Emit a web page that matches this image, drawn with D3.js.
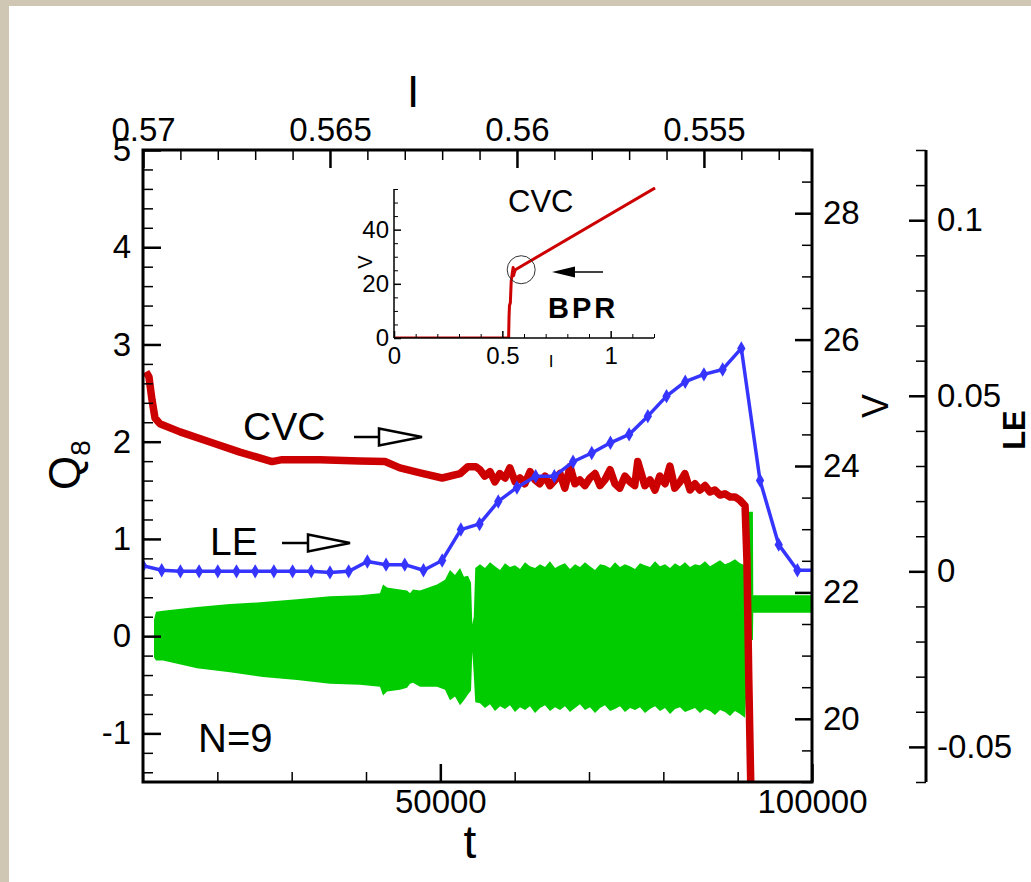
<!DOCTYPE html>
<html><head><meta charset="utf-8">
<script src="https://cdn.jsdelivr.net/npm/d3@7"></script>
<style>
html,body{margin:0;padding:0;background:#fff;}
svg{display:block;}
</style></head><body>
<svg id="chart" width="1031" height="882"></svg>
<script>
// ---------------- DATA ----------------
// CVC: voltage V versus current I (top axis I, right axis V)
const cvcI = [0.56992,0.56984,0.56976,0.56968,0.56955,0.56901,0.56821,0.56741,0.56655,0.56628,0.56527,0.56420,0.56353,0.56313,0.56259,0.56200,0.56152,0.56131,0.56110,
  0.56099,0.56086,0.56072,0.56059,0.56046,0.56032,0.56019,0.56005,0.55992,0.55979,0.55965,0.55952,0.55939,0.55925,0.55912,0.55898,0.55885,0.55872,0.55858,0.55845,
  0.55832,0.55818,0.55805,0.55791,0.55778,0.55765,0.55751,0.55738,0.55725,0.55711,0.55698,0.55685,0.55677,0.55658,0.55644,0.55631,0.55618,0.55604,0.55591,0.55578,
  0.55564,0.55551,0.55537,0.55524,0.55511,0.55497,0.55484,0.55471,0.55457,0.55444,0.55430,0.55417,0.55404,0.55390,0.55385,0.55380,0.55374];
const cvcV = [25.49,25.41,25.05,24.76,24.67,24.54,24.38,24.22,24.07,24.10,24.10,24.08,24.07,23.97,23.89,23.81,23.88,23.99,23.99,
  23.94,23.84,23.91,23.75,23.88,23.81,23.97,23.75,23.81,23.72,23.91,23.78,23.72,23.84,23.69,23.78,23.88,23.65,23.99,23.72,
  23.78,23.69,23.81,23.88,23.69,23.78,23.94,23.72,23.65,23.84,23.75,23.69,24.07,23.69,23.78,23.62,23.84,23.72,24.00,23.65,
  23.75,23.88,23.62,23.72,23.62,23.69,23.59,23.62,23.54,23.56,23.51,23.51,23.46,23.37,22.51,20.61,18.72];

// LE: Lyapunov exponent versus current I (top axis I, right axis LE)
const leI = [0.5700,0.5695,0.5690,0.5685,0.5680,0.5675,0.5670,0.5665,0.5660,0.5655,0.5650,0.5645,0.5640,0.5635,0.5630,0.5625,0.5620,0.5615,0.5610,0.5605,
  0.5600,0.5595,0.5590,0.5585,0.5580,0.5575,0.5570,0.5565,0.5560,0.5555,0.5550,0.5545,0.5540,0.5535,0.5530,0.5525,0.5520];
const leVal = [0.0016,0.0003,0,0,0,0,0,0,0,0,-0.0003,0,0.0028,0.0019,0.0019,0.0003,0.0031,0.0119,0.0135,0.0199,
  0.0239,0.0271,0.0271,0.0312,0.0337,0.0366,0.0390,0.0442,0.0499,0.0540,0.0561,0.0575,0.0635,0.0259,0.0076,0.0003,0.0003];

// Q8 time dependence (bottom axis t, left axis Q8): oscillation envelope
const q8T = [11480,11750,12690,17260,21700,26140,30720,35160,39190,41880,42290,42830,44570,45520,45920,46320,47270,49550,50630,51300,51970,52650,53180,53720,54130,54300,54500,54700,
  55340,56010,56680,57350,58030,58700,59370,60040,60720,61390,62060,62740,63410,64080,64750,65430,66100,66770,67440,68120,68790,69460,70130,70810,71480,72150,72830,73500,
  74170,74840,75520,76190,76860,77530,78210,78880,79550,80230,80900,81570,82240,82920,83590,84260,84930,85610,86280,86950,87630,88300,88970,89640,90320,90990,
  91500,92050,92100,100000];
const q8Upper = [0.17,0.25,0.26,0.30,0.33,0.35,0.38,0.41,0.42,0.44,0.53,0.50,0.48,0.47,0.44,0.48,0.47,0.53,0.58,0.68,0.63,0.70,0.61,0.62,0.55,0.12,0.20,0.70,
  0.74,0.70,0.76,0.72,0.68,0.75,0.71,0.73,0.69,0.76,0.72,0.70,0.74,0.71,0.77,0.70,0.73,0.75,0.69,0.74,0.71,0.76,0.72,0.68,0.74,0.73,0.70,0.76,
  0.71,0.74,0.72,0.69,0.75,0.73,0.71,0.77,0.72,0.74,0.70,0.75,0.72,0.76,0.71,0.74,0.73,0.77,0.72,0.75,0.78,0.74,0.76,0.79,0.75,0.73,
  1.28,1.28,0.42,0.42];
const q8Lower = [-0.22,-0.25,-0.25,-0.33,-0.37,-0.42,-0.45,-0.49,-0.50,-0.52,-0.61,-0.57,-0.55,-0.53,-0.49,-0.48,-0.52,-0.52,-0.55,-0.66,-0.62,-0.71,-0.66,-0.60,-0.56,-0.16,-0.40,-0.68,
  -0.69,-0.74,-0.70,-0.77,-0.72,-0.75,-0.71,-0.78,-0.73,-0.76,-0.72,-0.79,-0.74,-0.71,-0.77,-0.73,-0.76,-0.72,-0.78,-0.74,-0.70,-0.76,-0.73,-0.79,-0.74,-0.71,-0.77,-0.75,
  -0.72,-0.78,-0.74,-0.76,-0.73,-0.79,-0.75,-0.72,-0.77,-0.74,-0.80,-0.75,-0.73,-0.78,-0.76,-0.74,-0.79,-0.75,-0.77,-0.81,-0.76,-0.78,-0.82,-0.77,-0.80,-0.84,
  -0.04,-0.04,0.24,0.24];

// Inset CVC (I, V)
const insetI = [0,0.529,0.531,0.533,0.537,0.541,0.546,0.550,0.552,0.555,0.560,1.205];
const insetV = [0,0,8,12,13,21,24,26,23,24,25.2,55.4];
const bprPoint = [0.587,25.2];

// Tick values / labels
const topTicks = [0.57,0.565,0.56,0.555];
const topTickLabels = ["0.57","0.565","0.56","0.555"];
const bottomTicks = [50000,100000];
const bottomTickLabels = ["50000","100000"];
const leftTicks = [-1,0,1,2,3,4,5];
const leftTickLabels = ["-1","0","1","2","3","4","5"];
const vTicks = [20,22,24,26,28];
const vTickLabels = ["20","22","24","26","28"];
const leTicks = [-0.05,0,0.05,0.1];
const leTickLabels = ["-0.05","0","0.05","0.1"];
const insetXTicks = [0,0.5,1];
const insetXTickLabels = ["0","0.5","1"];
const insetYTicks = [0,20,40];
const insetYTickLabels = ["0","20","40"];

// ---------------- DRAWING ----------------
const FONT = '"Liberation Sans", Arial, Helvetica, sans-serif';
const W = 1031, H = 882;
const L = 143, R = 812, T = 150, B = 782;
const LEX = 926;
const RED = "#cc0000", BLUE = "#3535ff", GREEN = "#00cc00";

const svg = d3.select("#chart").style("font-family", FONT);
svg.append("rect").attr("width", W).attr("height", H).attr("fill", "#cfc6b4");
svg.append("rect").attr("x", 9).attr("y", 6).attr("width", W - 9).attr("height", H - 6).attr("fill", "#fff");

const xT = d3.scaleLinear().domain([10000, 100000]).range([L, R]);
const xI = d3.scaleLinear().domain([0.57, 0.55211]).range([L, R]);
const yQ = d3.scaleLinear().domain([-1.5, 5]).range([B, T]);
const yV = d3.scaleLinear().domain([19, 29]).range([B, T]);
const yLE = d3.scaleLinear().domain([-0.06, 0.12]).range([B, T]);

svg.append("clipPath").attr("id", "plotClip")
  .append("rect").attr("x", L).attr("y", T).attr("width", R - L).attr("height", B - T);
const plot = svg.append("g").attr("clip-path", "url(#plotClip)");

// green Q8 envelope
const q8 = q8T.map((t, i) => ({t, hi: q8Upper[i], lo: q8Lower[i]}));
plot.append("path").datum(q8)
  .attr("d", d3.area().x(d => xT(d.t)).y0(d => yQ(d.lo)).y1(d => yQ(d.hi)))
  .attr("fill", GREEN);

// red CVC
const cvc = cvcI.map((I, i) => ({I, V: cvcV[i]}));
plot.append("path").datum(cvc)
  .attr("d", d3.line().x(d => xI(d.I)).y(d => yV(d.V)))
  .attr("fill", "none").attr("stroke", RED).attr("stroke-width", 7.5)
  .attr("stroke-linejoin", "round").attr("stroke-linecap", "butt");

// blue LE
const le = leI.map((I, i) => ({I, v: leVal[i]}));
plot.append("path").datum(le)
  .attr("d", d3.line().x(d => xI(d.I)).y(d => yLE(d.v)))
  .attr("fill", "none").attr("stroke", BLUE).attr("stroke-width", 3.5).attr("stroke-linejoin", "round");
plot.selectAll(".mk").data(le).enter().append("path")
  .attr("d", d3.symbol().type(d3.symbolDiamond).size(60))
  .attr("transform", d => `translate(${xI(d.I)},${yLE(d.v)})`)
  .attr("fill", BLUE);

// axes helper
function addAxis(gen, tx, ty, sw, fs) {
  const g = svg.append("g").attr("transform", `translate(${tx},${ty})`).call(gen);
  g.attr("font-family", null).attr("font-size", null);
  g.select(".domain").remove();
  g.selectAll(".tick line").attr("stroke", "#000").attr("stroke-width", sw);
  g.selectAll(".tick text").attr("font-size", fs).attr("fill", "#000").style("font-family", FONT);
  return g;
}
const notIn = (arr) => v => !arr.some(a => Math.abs(a - v) < 1e-9);

// top axis (I)
addAxis(d3.axisTop(xI).tickValues(topTicks).tickFormat((d, i) => topTickLabels[i]).tickSize(-18).tickPadding(9), 0, T, 2.5, 33);
addAxis(d3.axisTop(xI).tickValues(d3.range(553, 571).map(v => v / 1000).filter(notIn(topTicks))).tickFormat("").tickSize(-10), 0, T, 1.5, 33);
// bottom axis (t)
addAxis(d3.axisBottom(xT).tickValues(bottomTicks).tickFormat((d, i) => bottomTickLabels[i]).tickSize(-18).tickPadding(8), 0, B, 2.5, 33);
addAxis(d3.axisBottom(xT).tickValues(d3.range(1, 10).map(k => k * 10000).filter(notIn(bottomTicks))).tickFormat("").tickSize(-10), 0, B, 1.5, 33);
// left axis (Q8)
addAxis(d3.axisLeft(yQ).tickValues(leftTicks).tickFormat((d, i) => leftTickLabels[i]).tickSize(-18).tickPadding(12), L, 0, 2.5, 33);
addAxis(d3.axisLeft(yQ).tickValues(d3.range(-7, 26).map(k => +(k * 0.2).toFixed(2)).filter(notIn(leftTicks))).tickFormat("").tickSize(-10), L, 0, 1.5, 33);
// right axis (V)
addAxis(d3.axisRight(yV).tickValues(vTicks).tickFormat((d, i) => vTickLabels[i]).tickSize(-17).tickPadding(11), R, 0, 2.5, 33);
addAxis(d3.axisRight(yV).tickValues(d3.range(38, 59).map(k => k / 2).filter(notIn(vTicks))).tickFormat("").tickSize(-10), R, 0, 1.5, 33);
// far right axis (LE)
addAxis(d3.axisRight(yLE).tickValues(leTicks).tickFormat((d, i) => leTickLabels[i]).tickSize(-17).tickPadding(11), LEX, 0, 2.5, 33);
addAxis(d3.axisRight(yLE).tickValues(d3.range(-6, 13).map(k => k / 100).filter(notIn(leTicks))).tickFormat("").tickSize(-10), LEX, 0, 1.5, 33);

// frame and LE axis line
svg.append("rect").attr("x", L).attr("y", T).attr("width", R - L).attr("height", B - T)
  .attr("fill", "none").attr("stroke", "#000").attr("stroke-width", 3);
svg.append("line").attr("x1", LEX).attr("x2", LEX).attr("y1", T).attr("y2", B)
  .attr("stroke", "#000").attr("stroke-width", 3);

// axis titles
svg.append("text").attr("x", 413).attr("y", 107).attr("text-anchor", "middle").attr("font-size", 44).text("I");
svg.append("text").attr("x", 470).attr("y", 858).attr("text-anchor", "middle").attr("font-size", 46).text("t");
const q8t = svg.append("text").attr("transform", "translate(80,490) rotate(-90)").attr("font-size", 44);
q8t.append("tspan").text("Q");
q8t.append("tspan").attr("font-size", 28).attr("dy", 10).text("8");
svg.append("text").attr("transform", "translate(888,406) rotate(-90)").attr("text-anchor", "middle").attr("font-size", 36).text("V");
svg.append("text").attr("transform", "translate(1025,430) rotate(-90)").attr("text-anchor", "middle").attr("font-size", 31).attr("font-weight", "bold").text("LE");

// annotations
svg.append("text").attr("x", 243).attr("y", 440).attr("font-size", 39).text("CVC");
svg.append("text").attr("x", 210).attr("y", 555).attr("font-size", 39).text("LE");
svg.append("text").attr("x", 198).attr("y", 752).attr("font-size", 40).text("N=9");
function openArrow(x0, x1, xt, y) {
  svg.append("line").attr("x1", x0).attr("x2", x1).attr("y1", y).attr("y2", y).attr("stroke", "#000").attr("stroke-width", 2.5);
  svg.append("path").attr("d", `M${x1},${y - 8.5}L${xt},${y}L${x1},${y + 8.5}Z`)
    .attr("fill", "#fff").attr("stroke", "#000").attr("stroke-width", 2.5).attr("stroke-linejoin", "miter");
}
openArrow(354, 379, 422, 437);
openArrow(282, 308, 350, 543);

// ---------------- INSET ----------------
const iL = 394, iR = 654, iT = 189, iB = 338;
const xi = d3.scaleLinear().domain([0, 1.2]).range([iL, iR]);
const yi = d3.scaleLinear().domain([0, 55]).range([iB, iT]);
const inset = insetI.map((I, i) => ({I, V: insetV[i]}));
svg.append("clipPath").attr("id", "insetClip")
  .append("rect").attr("x", iL).attr("y", iT - 2).attr("width", iR - iL + 2).attr("height", iB - iT + 2);
svg.append("path").datum(inset).attr("clip-path", "url(#insetClip)")
  .attr("d", d3.line().x(d => xi(d.I)).y(d => yi(d.V)))
  .attr("fill", "none").attr("stroke", RED).attr("stroke-width", 3).attr("stroke-linejoin", "round");

addAxis(d3.axisLeft(yi).tickValues(insetYTicks).tickFormat((d, i) => insetYTickLabels[i]).tickSize(-7).tickPadding(5), iL, 0, 1.5, 24);
addAxis(d3.axisLeft(yi).tickValues(d3.range(1, 12).map(k => k * 5).filter(notIn(insetYTicks))).tickFormat("").tickSize(-4), iL, 0, 1, 24);
addAxis(d3.axisBottom(xi).tickValues(insetXTicks).tickFormat((d, i) => insetXTickLabels[i]).tickSize(-7).tickPadding(9), 0, iB, 1.5, 24);
addAxis(d3.axisBottom(xi).tickValues(d3.range(1, 13).map(k => +(k * 0.1).toFixed(1)).filter(notIn(insetXTicks))).tickFormat("").tickSize(-4), 0, iB, 1, 24);
svg.append("line").attr("x1", iL).attr("x2", iL).attr("y1", iT).attr("y2", iB).attr("stroke", "#000").attr("stroke-width", 1.5);
svg.append("line").attr("x1", iL).attr("x2", iR).attr("y1", iB).attr("y2", iB).attr("stroke", "#000").attr("stroke-width", 1.5);

svg.append("text").attr("transform", "translate(372,262) rotate(-90)").attr("text-anchor", "middle").attr("font-size", 20).text("V");
svg.append("text").attr("x", 551).attr("y", 367).attr("text-anchor", "middle").attr("font-size", 17).text("I");
svg.append("text").attr("x", 508).attr("y", 212).attr("font-size", 31).text("CVC");
svg.append("text").attr("x", 548).attr("y", 318).attr("font-size", 29).attr("font-weight", "bold").attr("letter-spacing", 3).text("BPR");
svg.append("circle").attr("cx", xi(bprPoint[0])).attr("cy", yi(bprPoint[1])).attr("r", 14)
  .attr("fill", "none").attr("stroke", "#333").attr("stroke-width", 1);
svg.append("line").attr("x1", 603).attr("x2", 574).attr("y1", 272).attr("y2", 272).attr("stroke", "#000").attr("stroke-width", 1.5);
svg.append("path").attr("d", "M575,266.5L552,272L575,277.5Z").attr("fill", "#000");
</script>
</body></html>
